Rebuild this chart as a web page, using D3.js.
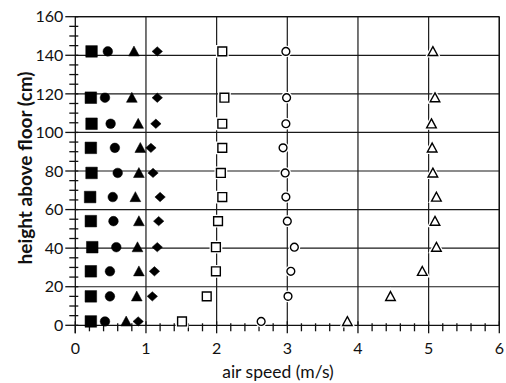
<!DOCTYPE html>
<html>
<head>
<meta charset="utf-8">
<script src="https://cdn.jsdelivr.net/npm/d3@7"></script>
<style>
  html, body { margin: 0; padding: 0; background: #fff; }
  svg { display: block; }
  text { font-family: Lato, "Open Sans", sans-serif; fill: #111; }
</style>
</head>
<body>
<svg id="chart" width="506" height="383"></svg>
<script>
// Measuring heights above the floor (cm)
const heights = [2, 15, 28, 40.5, 54, 66.5, 79, 92, 104.5, 118, 142];

// Air speed (m/s) at each height, one array per measurement series
const seriesFilledSquare   = [0.22, 0.22, 0.22, 0.24, 0.22, 0.21, 0.23, 0.22, 0.23, 0.22, 0.23];
const seriesFilledCircle   = [0.42, 0.49, 0.49, 0.58, 0.54, 0.53, 0.60, 0.56, 0.50, 0.42, 0.46];
const seriesFilledTriangle = [0.72, 0.87, 0.90, 0.88, 0.90, 0.85, 0.90, 0.92, 0.89, 0.80, 0.83];
const seriesFilledDiamond  = [0.89, 1.09, 1.12, 1.16, 1.18, 1.20, 1.10, 1.07, 1.14, 1.16, 1.16];
const seriesOpenSquare     = [1.51, 1.86, 1.99, 1.99, 2.02, 2.08, 2.06, 2.08, 2.08, 2.11, 2.08];
const seriesOpenCircle     = [2.63, 3.01, 3.05, 3.10, 3.00, 2.98, 2.97, 2.94, 2.98, 2.99, 2.98];
const seriesOpenTriangle   = [3.85, 4.46, 4.91, 5.11, 5.09, 5.11, 5.06, 5.05, 5.04, 5.09, 5.06];

const xTicks = [0, 1, 2, 3, 4, 5, 6];
const yTicks = [0, 20, 40, 60, 80, 100, 120, 140, 160];

const svg = d3.select("#chart");
const plotLeft = 75.3, plotRight = 499.3, plotTop = 16.7, plotBottom = 325.3;

const x = d3.scaleLinear().domain([0, 6]).range([plotLeft, plotRight]);
const y = d3.scaleLinear().domain([0, 160]).range([plotBottom, plotTop]);

// grid lines
const grid = svg.append("g").attr("stroke", "#1a1a1a").attr("stroke-width", 1.2);
grid.selectAll("line.h").data(yTicks.filter(d => d > 0)).join("line")
  .attr("x1", plotLeft).attr("x2", plotRight)
  .attr("y1", d => y(d)).attr("y2", d => y(d));
grid.selectAll("line.v").data(xTicks.filter(d => d > 0)).join("line")
  .attr("y1", plotTop).attr("y2", plotBottom)
  .attr("x1", d => x(d)).attr("x2", d => x(d));

// axes with crossing tick marks
const axisG = svg.append("g").attr("stroke", "#111").attr("stroke-width", 1.3);
axisG.append("line").attr("x1", plotLeft).attr("x2", plotLeft).attr("y1", plotTop).attr("y2", plotBottom + 8);
axisG.append("line").attr("x1", plotLeft).attr("x2", plotRight).attr("y1", plotBottom).attr("y2", plotBottom);

const yMinor = d3.range(0, 161, 5).filter(v => v % 20 !== 0);
axisG.selectAll("line.ymaj").data(yTicks).join("line")
  .attr("x1", plotLeft - 10).attr("x2", plotLeft + 3)
  .attr("y1", d => y(d)).attr("y2", d => y(d));
axisG.selectAll("line.ymin").data(yMinor).join("line")
  .attr("x1", plotLeft - 6).attr("x2", plotLeft + 3)
  .attr("y1", d => y(d)).attr("y2", d => y(d));

const xMinor = d3.range(0, 6.01, 0.2).map(v => +v.toFixed(1)).filter(v => Math.abs(v - Math.round(v)) > 1e-6);
axisG.selectAll("line.xmaj").data(xTicks).join("line")
  .attr("y1", plotBottom - 4).attr("y2", plotBottom + 8)
  .attr("x1", d => x(d)).attr("x2", d => x(d));
axisG.selectAll("line.xmin").data(xMinor).join("line")
  .attr("y1", plotBottom - 2).attr("y2", plotBottom + 6)
  .attr("x1", d => x(d)).attr("x2", d => x(d));

// tick labels
svg.append("g").selectAll("text").data(yTicks).join("text")
  .attr("x", plotLeft - 12).attr("y", d => y(d)).attr("dy", "0.36em")
  .attr("text-anchor", "end").attr("font-size", 16).text(d => d);
svg.append("g").selectAll("text").data(xTicks).join("text")
  .attr("x", d => x(d)).attr("y", 354)
  .attr("text-anchor", "middle").attr("font-size", 16).text(d => d);

// axis titles
svg.append("text").attr("x", 278).attr("y", 377.5).attr("text-anchor", "middle")
  .attr("font-size", 17.5).text("air speed (m/s)");
svg.append("text").attr("transform", "translate(32,168) rotate(-90)")
  .attr("text-anchor", "middle").attr("font-size", 19).attr("font-weight", "bold")
  .text("height above floor (cm)");

// marker shapes, drawn around (0,0) with half-size r
const shapes = {
  square: r => `M${-r},${-r}H${r}V${r}H${-r}Z`,
  circle: r => `M${r},0A${r},${r} 0 1 1 ${-r},0A${r},${r} 0 1 1 ${r},0Z`,
  triangle: r => `M0,${-r}L${r},${r * 0.85}L${-r},${r * 0.85}Z`,
  diamond: r => `M0,${-r * 0.9}L${r},0L0,${r * 0.9}L${-r},0Z`
};

const series = [
  { values: seriesFilledSquare,   shape: "square",   r: 5.8, filled: true },
  { values: seriesFilledCircle,   shape: "circle",   r: 4.8, filled: true },
  { values: seriesFilledTriangle, shape: "triangle", r: 5.4, filled: true },
  { values: seriesFilledDiamond,  shape: "diamond",  r: 5.2, filled: true },
  { values: seriesOpenSquare,     shape: "square",   r: 4.4, filled: false },
  { values: seriesOpenCircle,     shape: "circle",   r: 3.9, filled: false },
  { values: seriesOpenTriangle,   shape: "triangle", r: 4.8, filled: false }
];

series.forEach(s => {
  const pts = s.values.map((v, i) => ({ v, h: heights[i] }));
  const g = svg.append("g");
  if (!s.filled) {
    // white halo so lines break around open markers
    g.selectAll("path.halo").data(pts).join("path")
      .attr("transform", d => `translate(${x(d.v)},${y(d.h)})`)
      .attr("d", shapes[s.shape](s.r))
      .attr("fill", "#fff").attr("stroke", "#fff").attr("stroke-width", 4);
  }
  g.selectAll("path.mark").data(pts).join("path")
    .attr("transform", d => `translate(${x(d.v)},${y(d.h)})`)
    .attr("d", shapes[s.shape](s.r))
    .attr("fill", s.filled ? "#000" : "#fff")
    .attr("stroke", "#000")
    .attr("stroke-width", s.filled ? 0.5 : 1.4)
    .attr("stroke-linejoin", "miter");
});

// frame top and right
axisG.append("line").attr("x1", plotLeft).attr("x2", plotRight).attr("y1", plotTop).attr("y2", plotTop);
axisG.append("line").attr("x1", plotRight).attr("x2", plotRight).attr("y1", plotTop).attr("y2", plotBottom);
</script>
</body>
</html>
